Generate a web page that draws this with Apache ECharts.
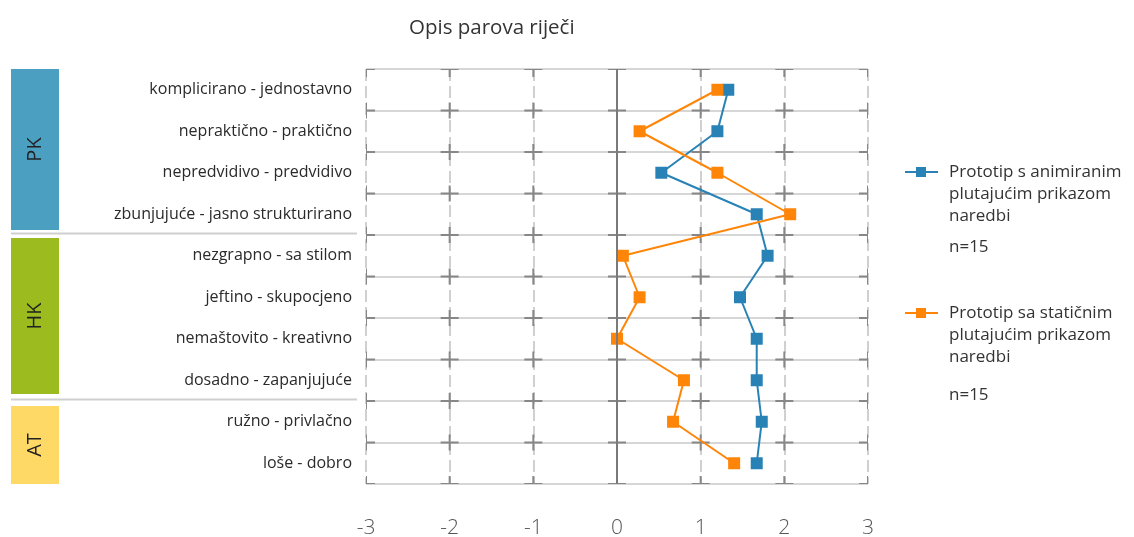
<!DOCTYPE html>
<html>
<head>
<meta charset="utf-8">
<script src="https://cdn.jsdelivr.net/npm/echarts@6/dist/echarts.min.js"></script>
<style>
html,body{margin:0;padding:0;background:#fff;}
#chart{width:1134px;height:537px;}
</style>
</head>
<body>
<div id="chart"></div>
<script>
const title = 'Opis parova riječi';
const categories = [
  'komplicirano - jednostavno',
  'nepraktično - praktično',
  'nepredvidivo - predvidivo',
  'zbunjujuće - jasno strukturirano',
  'nezgrapno - sa stilom',
  'jeftino - skupocjeno',
  'nemaštovito - kreativno',
  'dosadno - zapanjujuće',
  'ružno - privlačno',
  'loše - dobro'
];
const seriesNames = [
  'Prototip s animiranim\nplutajućim prikazom\nnaredbi',
  'Prototip sa statičnim\nplutajućim prikazom\nnaredbi'
];
const sampleNote = 'n=15';
const animiraniValues = [1.33, 1.2, 0.53, 1.67, 1.8, 1.47, 1.67, 1.67, 1.73, 1.67];
const staticniValues = [1.2, 0.27, 1.2, 2.07, 0.07, 0.27, 0.0, 0.8, 0.67, 1.4];
const xTicks = [-3, -2, -1, 0, 1, 2, 3];
const groups = ['PK', 'HK', 'AT'];
const groupColors = ['#4ba0c1', '#9bbb1f', '#ffd966'];

const colors = ['#2882b6', '#ff8509'];
const font = 'Open Sans';

// cross marks at each grid intersection
const crossData = [];
xTicks.forEach(x => { for (let b = 0; b <= categories.length; b++) crossData.push([x, b]); });

const chart = echarts.init(document.getElementById('chart'));

function legendItem(y, color, name) {
  return {
    type: 'group',
    children: [
      { type: 'line', shape: { x1: 905, y1: y, x2: 938, y2: y }, style: { stroke: color, lineWidth: 2 } },
      { type: 'rect', shape: { x: 916, y: y - 5, width: 10, height: 10 }, style: { fill: color } },
      { type: 'text', x: 949, y: y - 11, style: { text: name, font: '17px "' + font + '"', fill: '#333', lineHeight: 22, textVerticalAlign: 'top' } }
    ]
  };
}

const option = {
  animation: false,
  title: {
    text: title,
    left: 404, top: 13,
    textStyle: { fontFamily: font, fontSize: 20.5, fontWeight: 'normal', color: '#333' }
  },
  grid: { left: 366, right: 266, top: 69, bottom: 53, containLabel: false, outerBoundsMode: 'none' },
  xAxis: {
    type: 'value', min: -3, max: 3, interval: 1,
    axisLine: { show: false }, axisTick: { show: false },
    axisLabel: { fontFamily: font, fontSize: 21, color: '#555', fontWeight: 300, margin: 34 },
    splitLine: { show: true, lineStyle: { color: '#d0d0d0', width: 2, type: [12, 5] } }
  },
  yAxis: [
    {
      type: 'category', data: categories, inverse: true,
      axisLine: { show: false }, axisTick: { show: false },
      axisLabel: { fontFamily: font, fontSize: 16, color: '#2a2a2a', margin: 14 },
      splitLine: { show: true, lineStyle: { color: '#d6d6d6', width: 2 } }
    },
    {
      type: 'value', min: 0, max: categories.length, inverse: true, show: false
    }
  ],
  series: [
    {
      type: 'custom', xAxisIndex: 0, yAxisIndex: 1, clip: true, silent: true, z: 1,
      data: crossData,
      renderItem: function (params, api) {
        const p = api.coord([api.value(0), api.value(1)]);
        const st = { stroke: '#878787', lineWidth: 2 };
        return {
          type: 'group', children: [
            { type: 'line', shape: { x1: p[0] - 9, y1: p[1], x2: p[0] + 9, y2: p[1] }, style: st },
            { type: 'line', shape: { x1: p[0], y1: p[1] - 8, x2: p[0], y2: p[1] + 8 }, style: st }
          ]
        };
      },
      markLine: {
        silent: true, symbol: 'none', label: { show: false },
        lineStyle: { color: '#7a7a7a', width: 2, type: 'solid' },
        data: [{ xAxis: 0 }]
      }
    },
    {
      name: seriesNames[0], type: 'line', z: 3,
      data: animiraniValues.map((v, i) => [v, categories[i]]),
      symbol: 'rect', symbolSize: 12,
      itemStyle: { color: colors[0] },
      lineStyle: { color: colors[0], width: 2 }
    },
    {
      name: seriesNames[1], type: 'line', z: 4,
      data: staticniValues.map((v, i) => [v, categories[i]]),
      symbol: 'rect', symbolSize: 12,
      itemStyle: { color: colors[1] },
      lineStyle: { color: colors[1], width: 2 }
    }
  ],
  graphic: [
    { type: 'rect', shape: { x: 11, y: 69, width: 48, height: 161 }, style: { fill: groupColors[0] } },
    { type: 'rect', shape: { x: 11, y: 238, width: 48, height: 156 }, style: { fill: groupColors[1] } },
    { type: 'rect', shape: { x: 11, y: 406, width: 48, height: 78 }, style: { fill: groupColors[2] } },
    { type: 'text', x: 35, y: 149.5, rotation: Math.PI / 2, style: { text: groups[0], font: '20px "' + font + '"', fill: '#222', textAlign: 'center', textVerticalAlign: 'middle' } },
    { type: 'text', x: 35, y: 316, rotation: Math.PI / 2, style: { text: groups[1], font: '20px "' + font + '"', fill: '#222', textAlign: 'center', textVerticalAlign: 'middle' } },
    { type: 'text', x: 35, y: 445, rotation: Math.PI / 2, style: { text: groups[2], font: '20px "' + font + '"', fill: '#222', textAlign: 'center', textVerticalAlign: 'middle' } },
    { type: 'line', shape: { x1: 11, y1: 233.5, x2: 357, y2: 233.5 }, style: { stroke: '#cfcfcf', lineWidth: 2 } },
    { type: 'line', shape: { x1: 11, y1: 399.5, x2: 357, y2: 399.5 }, style: { stroke: '#cfcfcf', lineWidth: 2 } },
    legendItem(172, colors[0], seriesNames[0]),
    { type: 'text', x: 949, y: 247, style: { text: sampleNote, font: '17px "' + font + '"', fill: '#333', textVerticalAlign: 'middle' } },
    legendItem(313, colors[1], seriesNames[1]),
    { type: 'text', x: 949, y: 395, style: { text: sampleNote, font: '17px "' + font + '"', fill: '#333', textVerticalAlign: 'middle' } }
  ]
};
chart.setOption(option);
</script>
</body>
</html>
